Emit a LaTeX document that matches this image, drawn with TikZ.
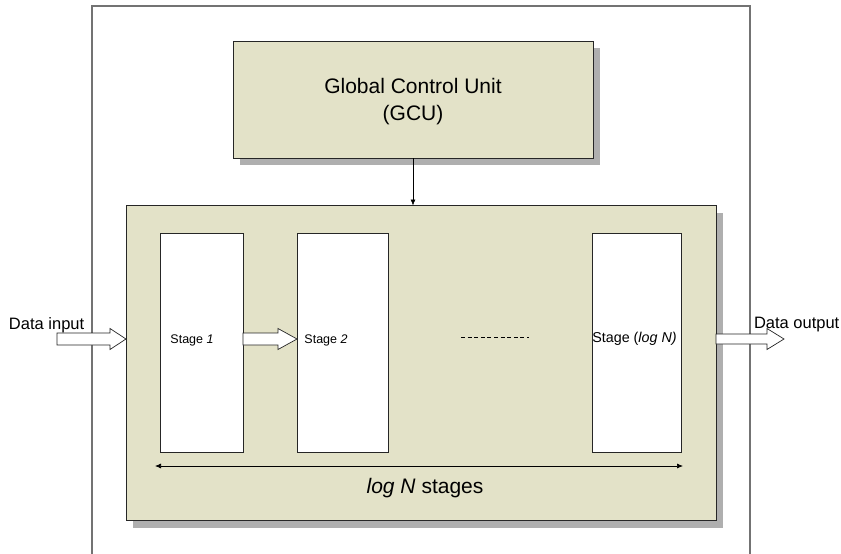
\documentclass[tikz,border=0pt]{standalone}
\usepackage{fontspec}
\setmainfont{Liberation Sans}
\usetikzlibrary{arrows.meta,shadows,patterns,calc}
\definecolor{boxfill}{RGB}{227,226,200}
\definecolor{shadowgray}{RGB}{175,175,175}
\tikzset{
  boxstyle/.style={draw=black!85, line width=0.8pt, fill=boxfill, inner sep=0pt, outer sep=0pt,
    drop shadow={shadow xshift=7pt, shadow yshift=-7pt, fill=shadowgray, opacity=1}},
  stagebox/.style={draw=black!85, line width=0.8pt, fill=white, inner sep=0pt, outer sep=0pt},
  lbl/.style={inner sep=0pt, outer sep=0pt, anchor=base},
  blockarrow/.style={draw=black!85, line width=0.7pt, fill=white, line join=miter},
  thinarrow/.style={draw=black, line width=0.6pt, -{Latex[length=6pt,width=5pt]}},
}
\begin{document}
\begin{tikzpicture}[x=1pt,y=-1pt]
\useasboundingbox (0,0) rectangle (841,554);
% outer frame (open at the bottom)
\draw[line width=1.6pt, draw=black!55] (92,554) -- (92,6) -- (750,6) -- (750,554);

% GCU
\node[boxstyle, minimum width=360pt, minimum height=117pt] (gcu) at (413,99.5) {};
\node[lbl, font=\fontsize{21}{25}\selectfont] (gcut1) at (413,93) {Global Control Unit};
\node[lbl, font=\fontsize{21}{25}\selectfont] (gcut2) at (413,120) {(GCU)};

% main box
\node[boxstyle, minimum width=590pt, minimum height=315pt] (main) at (421,363) {};

% stages
\node[stagebox, minimum width=83pt, minimum height=219pt] (s1) at (201.5,342.5) {};
\node[stagebox, minimum width=91pt, minimum height=219pt] (s2) at (342.5,342.5) {};
\node[stagebox, minimum width=89pt, minimum height=219pt] (sn) at (636.5,342.5) {};
\node[lbl, font=\fontsize{12.5}{15}\selectfont] (s1t) at (192,343) {Stage \textit{1}};
\node[lbl, font=\fontsize{12.5}{15}\selectfont] (s2t) at (326,343) {Stage \textit{2}};
\node[lbl, font=\fontsize{14.3}{17}\selectfont] (snt) at (634.5,342) {Stage (\textit{log N)}};

% dashed line between stages
\coordinate (d1) at (461,337);
\coordinate (d2) at (529,337);
\draw[line width=0.7pt, dash pattern=on 4pt off 2.6pt] (d1) -- (d2);

% GCU -> main arrow
\draw[thinarrow] (gcu.south) -- (gcu.south |- main.north);

% log N stages span arrow
\coordinate (spanL) at (155,466);
\coordinate (spanR) at (683,466);
\draw[line width=0.7pt, {Latex[length=6pt,width=5pt]}-{Latex[length=6pt,width=5pt]}] (spanL) -- (spanR);
\node[lbl, font=\fontsize{21}{25}\selectfont] (spant) at (425,493) {\textit{log N} stages};

% data input block arrow
\coordinate (inTail) at (57,339);
\path (main.west |- inTail) coordinate (inTip);
\draw[blockarrow] (inTail) ++(0,-6) -- ++(53,0) -- ++(0,-4.5) -- (inTip) -- ($(inTail)+(53,10.5)$) -- ++(0,-4.5) -- ++(-53,0) -- cycle;
\node[lbl, anchor=base west, font=\fontsize{16.5}{20}\selectfont] (dint) at (9,329) {Data input};

% stage 1 -> stage 2 block arrow
\path (s1.east |- inTail) coordinate (mTail);
\path (s2.west |- inTail) coordinate (mTip);
\draw[blockarrow] (mTail) ++(0,-6) -- ++(35,0) -- ++(0,-4.5) -- (mTip) -- ($(mTail)+(35,10.5)$) -- ++(0,-4.5) -- ++(-35,0) -- cycle;

% data output block arrow
\path (main.east |- inTail) coordinate (oTail);
\coordinate (oTip) at (784,339);
\draw[blockarrow] (oTail) ++(0,-5) -- ++(51,0) -- ++(0,-5.5) -- (oTip) -- ($(oTail)+(51,10.5)$) -- ++(0,-5.5) -- ++(-51,0) -- cycle;
\node[lbl, anchor=base west, font=\fontsize{16.5}{20}\selectfont] (doutt) at (754,328) {Data output};
\end{tikzpicture}
\end{document}
